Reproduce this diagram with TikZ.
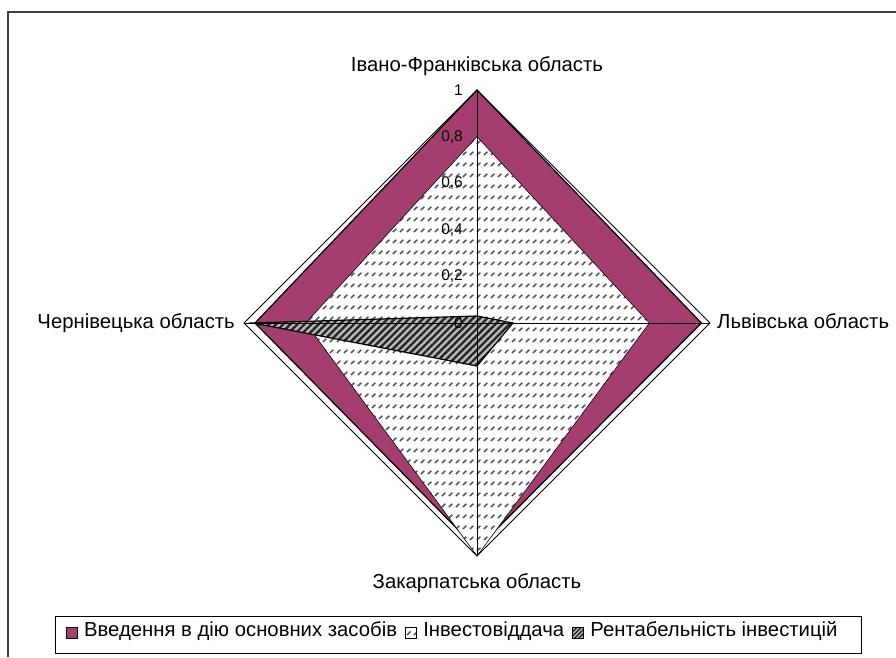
\documentclass[tikz,border=0pt]{standalone}
\usepackage{fontspec}
\setmainfont{Liberation Sans}
\usetikzlibrary{positioning,patterns,patterns.meta}

\definecolor{plum}{RGB}{163,62,111}

\tikzdeclarepattern{
  name=dashrows,
  type=uncolored,
  bounding box={(0pt,0pt) and (7pt,10.5pt)},
  tile size={(7pt,10.5pt)},
  code={\draw[line width=1.6pt] (1pt,1pt) -- (5pt,4.5pt);}
}

\begin{document}
\begin{tikzpicture}[x=1pt,y=1pt,
    catlabel/.style={font=\fontsize{20.3}{23}\selectfont,inner sep=0pt},
    ticklabel/.style={font=\fontsize{15.5}{17}\selectfont,inner sep=0pt,anchor=east},
    legsq/.style={rectangle,draw,line width=0.8pt,minimum size=11pt,inner sep=0pt},
    legtxt/.style={font=\fontsize{20.3}{23}\selectfont,inner sep=0pt,
        text height=0.716em,text depth=0pt}]

    \useasboundingbox (-477,-334) rectangle (419,323);

    % 1 = 233pt
    \coordinate (top) at (0,233);
    \coordinate (right) at (233,0);
    \coordinate (bottom) at (0,-233);
    \coordinate (left) at (-233,0);
    \coordinate (vvod1) at (0,233);
    \coordinate (vvod2) at (224.4,0);
    \coordinate (vvod3) at (0,-226);
    \coordinate (vvod4) at (-222,0);
    \coordinate (inv1) at (0,186.4);
    \coordinate (inv2) at (172.4,0);
    \coordinate (inv3) at (0,-233);
    \coordinate (inv4) at (-171.3,0);
    \coordinate (rent1) at (0,7);
    \coordinate (rent2) at (36,0);
    \coordinate (rent3) at (0,-43);
    \coordinate (rent4) at (-224,0);

    % frame
    \draw[line width=1.5pt,black!75] (-469,-334) -- (-469,311) -- (419,311);

    \draw[fill=plum,line width=1.2pt]
        (vvod1) -- (vvod2) -- (vvod3) -- (vvod4) -- cycle;
    \fill[white] (inv1) -- (inv2) -- (inv3) -- (inv4) -- cycle;
    \draw[pattern=dashrows,pattern color=black!65,line width=0.6pt]
        (inv1) -- (inv2) -- (inv3) -- (inv4) -- cycle;
    \fill[gray!55] (rent1) -- (rent2) -- (rent3) -- (rent4) -- cycle;
    \draw[pattern={Lines[angle=45,distance=5pt,line width=2.4pt]},
        pattern color=black!85,line width=1.2pt]
        (rent1) -- (rent2) -- (rent3) -- (rent4) -- cycle;

    \begin{scope}[line width=0.8pt]
        \draw (top) -- (right) -- (bottom) -- (left) -- cycle;
        \draw (top) -- (bottom);
        \draw (left) -- (right);
    \end{scope}

    \foreach \v/\t [count=\i] in {0/0,0.2/{0,2},0.4/{0,4},0.6/{0,6},0.8/{0,8},1/1}
        \node[ticklabel] (tick\i) at (-14,\v*233) {\t};

    \node[catlabel,anchor=base]
        (ivfr) at (0,252) {Івано-Франківська область};
    \node[catlabel,anchor=base west]
        (lviv) at (240,-5) {Львівська область};
    \node[catlabel,anchor=base]
        (zakarp) at (0,-265) {Закарпатська область};
    \node[catlabel,anchor=base east]
        (cherniv) at (-242,-5) {Чернівецька область};

    % legend
    \node[draw,line width=0.8pt,minimum width=806pt,minimum height=37pt]
        (legend) at (-19,-311.5) {};
    \node[legsq,fill=plum]
        (sqvvod) at (-405,-310) {};
    \node[legtxt,right=6pt of sqvvod]
        (txvvod) {Введення в дію основних засобів};
    \node[legsq,fill=white,right=8pt of txvvod]
        (sqinv) {};
    \node[legsq,pattern=dashrows,pattern color=black!65]
        at (sqinv) {};
    \node[legtxt,right=6pt of sqinv]
        (txinv) {Інвестовіддача};
    \node[legsq,fill=gray!55,right=8pt of txinv]
        (sqrent) {};
    \node[legsq,pattern={Lines[angle=45,distance=3pt,line width=1.4pt]},
        pattern color=black!85] at (sqrent) {};
    \node[legtxt,right=6pt of sqrent]
        (txrent) {Рентабельність інвестицій};
\end{tikzpicture}
\end{document}
